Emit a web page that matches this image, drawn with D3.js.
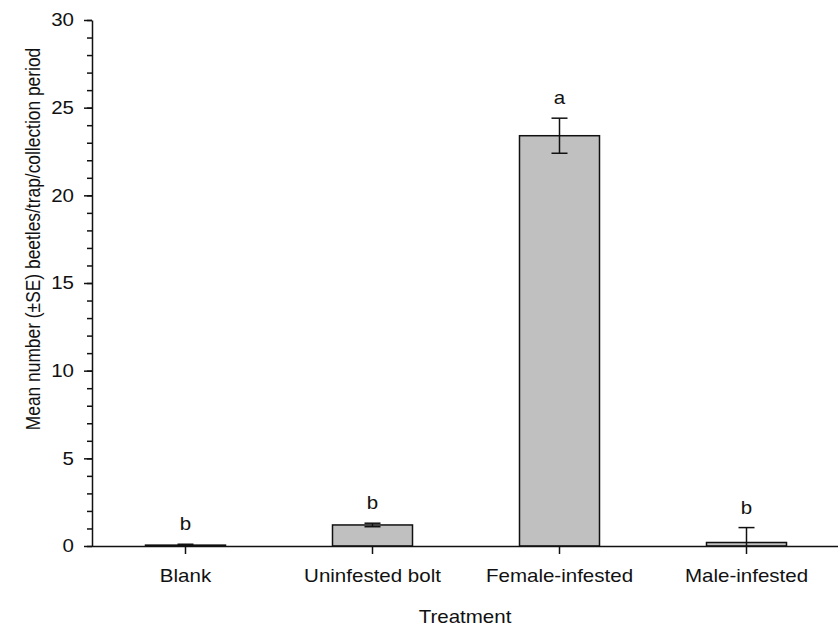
<!DOCTYPE html>
<html>
<head>
<meta charset="utf-8">
<script src="https://cdn.jsdelivr.net/npm/d3@7/dist/d3.min.js"></script>
<style>
html,body{margin:0;padding:0;background:#fff;}
svg{display:block;}
text{font-family:"Liberation Sans",Arial,sans-serif;fill:#111;}
</style>
</head>
<body>
<svg id="chart" width="838" height="626"></svg>
<script>
const categories = ["Blank", "Uninfested bolt", "Female-infested", "Male-infested"];
const means = [0.05, 1.2, 23.4, 0.2];
const errors = [0.05, 0.1, 1.0, 0.85];
const letters = ["b", "b", "a", "b"];
const majorTicks = [0, 5, 10, 15, 20, 25, 30];
const minorTicks = d3.range(0, 31, 1);

const svg = d3.select("#chart");
const mLeft = 92, mRight = 840, mTop = 20, mBottom = 546;
const sx = 1.14;

const x = d3.scaleBand().domain(categories).range([mLeft, mRight]).paddingInner(0.57).paddingOuter(0.285);
const y = d3.scaleLinear().domain([0, 30]).range([mBottom, mTop]);

// bars
const data = categories.map((c, i) => ({c, m: means[i], e: errors[i], l: letters[i]}));
const bw = 80;
svg.append("g").selectAll("rect").data(data).join("rect")
  .attr("x", d => x(d.c) + x.bandwidth()/2 - bw/2)
  .attr("width", bw)
  .attr("y", d => y(d.m))
  .attr("height", d => y(0) - y(d.m))
  .attr("fill", "#c0c0c0")
  .attr("stroke", "#111")
  .attr("stroke-width", 1.5);

// error bars
const eg = svg.append("g").attr("stroke", "#111").attr("stroke-width", 1.5);
data.forEach(d => {
  const cx = x(d.c) + x.bandwidth()/2;
  const hi = d.m + d.e, lo = Math.max(0, d.m - d.e);
  eg.append("line").attr("x1", cx).attr("x2", cx).attr("y1", y(lo)).attr("y2", y(hi));
  eg.append("line").attr("x1", cx - 8).attr("x2", cx + 8).attr("y1", y(hi)).attr("y2", y(hi));
  if (d.m - d.e > 0) eg.append("line").attr("x1", cx - 8).attr("x2", cx + 8).attr("y1", y(lo)).attr("y2", y(lo));
});

// letters
svg.append("g").selectAll("text").data(data).join("text")
  .attr("transform", d => `translate(${x(d.c) + x.bandwidth()/2},${y(d.m + d.e) - 14}) scale(${sx},1)`)
  .attr("text-anchor", "middle")
  .attr("font-size", 18)
  .text(d => d.l);

// y axis minor ticks
const yMinor = svg.append("g").attr("transform", `translate(${mLeft},0)`)
  .call(d3.axisLeft(y).tickValues(minorTicks).tickSize(5).tickFormat(""));
yMinor.select(".domain").remove();
yMinor.selectAll("line").attr("stroke", "#111").attr("stroke-width", 1.5);

// y axis major
const yAx = svg.append("g").attr("transform", `translate(${mLeft},0)`)
  .call(d3.axisLeft(y).tickValues(majorTicks).tickSize(8).tickSizeOuter(0).tickPadding(10).tickFormat(d3.format("d")));
yAx.select(".domain").attr("stroke", "#111").attr("stroke-width", 1.5);
yAx.selectAll("line").attr("stroke", "#111").attr("stroke-width", 1.5);
yAx.selectAll("text").attr("font-size", 18).attr("font-family", "Liberation Sans, Arial, sans-serif").attr("fill", "#111")
  .attr("x", -18 / sx).attr("transform", `scale(${sx},1)`);

// x axis
const xAx = svg.append("g").attr("transform", `translate(0,${mBottom})`)
  .call(d3.axisBottom(x).tickSize(8).tickSizeOuter(0).tickPadding(15));
xAx.select(".domain").attr("d", `M${mLeft},0.5H838`).attr("stroke", "#111").attr("stroke-width", 1.5);
xAx.selectAll("line").attr("stroke", "#111").attr("stroke-width", 1.5);
xAx.selectAll("text").attr("font-size", 18).attr("font-family", "Liberation Sans, Arial, sans-serif").attr("fill", "#111")
  .attr("transform", `scale(${sx},1)`);

// titles
svg.append("text").attr("transform", `translate(465,623) scale(${sx},1)`).attr("text-anchor", "middle").attr("font-size", 18).text("Treatment");
svg.append("text").attr("transform", `translate(40,239) scale(${sx},1) rotate(-90)`).attr("text-anchor", "middle").attr("font-size", 17.4)
  .text("Mean number (±SE) beetles/trap/collection period");
</script>
</body>
</html>
